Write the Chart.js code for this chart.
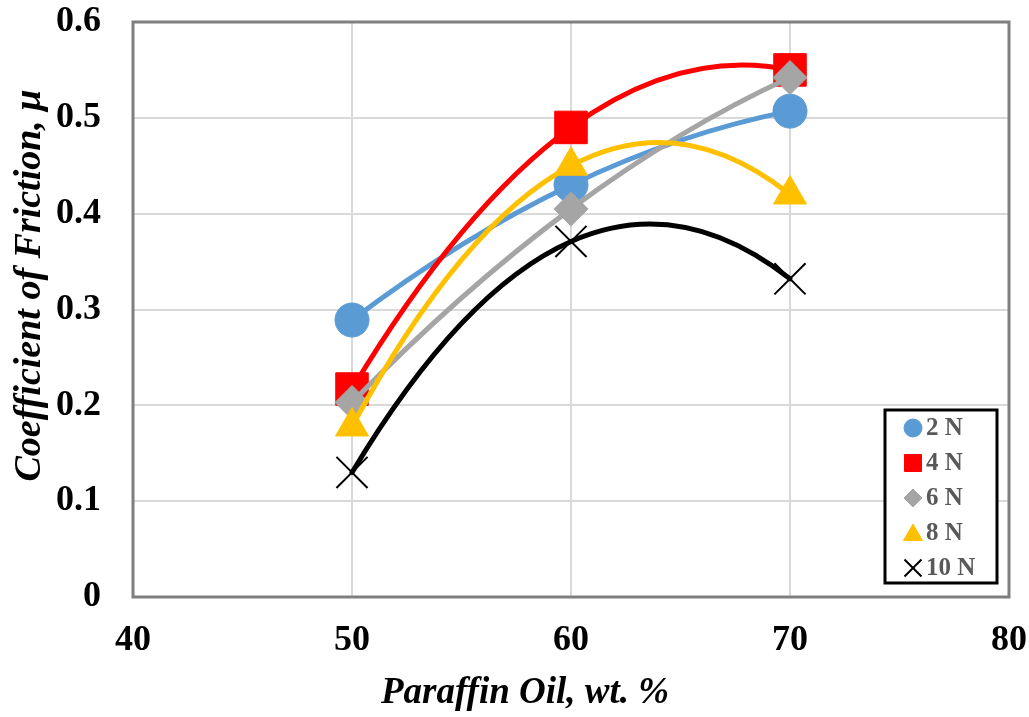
<!DOCTYPE html>
<html>
<head>
<meta charset="utf-8">
<script src="https://cdn.jsdelivr.net/npm/chart.js@4/dist/chart.umd.min.js"></script>
<style>
  body { margin: 0; background: #fff; }
  #wrap { width: 1029px; height: 717px; }
</style>
</head>
<body>
<div id="wrap"><canvas id="cofChart" width="1029" height="717"></canvas></div>
<script>
const oilContent = [50, 60, 70];
const seriesLabels = ['2 N', '4 N', '6 N', '8 N', '10 N'];
const cof2N = [0.289, 0.430, 0.507];
const cof4N = [0.217, 0.490, 0.550];
const cof6N = [0.203, 0.405, 0.542];
const cof8N = [0.178, 0.450, 0.420];
const cof10N = [0.130, 0.371, 0.332];
const xTicks = [40, 50, 60, 70, 80];
const yTicks = [0, 0.1, 0.2, 0.3, 0.4, 0.5, 0.6];
const xTitle = 'Paraffin Oil, wt. %';
const yTitle = 'Coefficient of Friction, μ';

const allSeries = [cof2N, cof4N, cof6N, cof8N, cof10N];
const colors = ['#5B9BD5', '#FF0000', '#A5A5A5', '#FFC000', '#000000'];
const styles = ['circle', 'rect', 'rectRot', 'triangle', 'crossRot'];
const radii = [17, 23, 17, 19, 22];
const legendRadii = [9, 12, 9, 11, 12];

const datasets = allSeries.map((vals, i) => ({
  label: seriesLabels[i],
  data: oilContent.map((x, j) => ({ x: x, y: vals[j] })),
  borderColor: colors[i],
  backgroundColor: colors[i],
  borderWidth: 5,
  showLine: false,
  pointStyle: styles[i],
  pointRadius: radii[i],
  pointHoverRadius: radii[i],
  pointBorderColor: colors[i],
  pointBackgroundColor: colors[i],
  pointBorderWidth: i === 4 ? 2 : 1,
  order: allSeries.length - i,
  clip: false
}));

// slope of the quadratic through three pixel points, at x
function lagrangeSlope(p, x) {
  const [a, b, c] = p;
  return a.y * ((x - b.x) + (x - c.x)) / ((a.x - b.x) * (a.x - c.x)) +
         b.y * ((x - a.x) + (x - c.x)) / ((b.x - a.x) * (b.x - c.x)) +
         c.y * ((x - a.x) + (x - b.x)) / ((c.x - a.x) * (c.x - b.x));
}

// smooth curve through the points of each dataset, drawn just under its own markers
const smoothCurve = {
  id: 'smoothCurve',
  beforeDatasetDraw(chart, args) {
    const pts = args.meta.data.map(e => ({ x: e.x, y: e.y }));
    if (pts.length < 3) return;
    const ds = chart.data.datasets[args.index];
    const ctx = chart.ctx;
    const s = pts.map(p => lagrangeSlope(pts, p.x));
    ctx.save();
    ctx.strokeStyle = ds.borderColor;
    ctx.lineWidth = ds.borderWidth;
    ctx.lineCap = 'round';
    ctx.lineJoin = 'round';
    ctx.beginPath();
    ctx.moveTo(pts[0].x, pts[0].y);
    for (let i = 0; i < pts.length - 1; i++) {
      const h = (pts[i + 1].x - pts[i].x) / 3;
      ctx.bezierCurveTo(pts[i].x + h, pts[i].y + s[i] * h,
                        pts[i + 1].x - h, pts[i + 1].y - s[i + 1] * h,
                        pts[i + 1].x, pts[i + 1].y);
    }
    ctx.stroke();
    ctx.restore();
  }
};

// plot frame and axis titles
const frame = {
  id: 'frame',
  beforeDatasetsDraw(chart) {
    const a = chart.chartArea;
    const ctx = chart.ctx;
    ctx.save();
    ctx.strokeStyle = '#7f7f7f';
    ctx.lineWidth = 3;
    ctx.strokeRect(a.left, a.top, a.right - a.left, a.bottom - a.top);
    ctx.fillStyle = '#000';
    ctx.textAlign = 'center';
    ctx.textBaseline = 'middle';
    ctx.font = 'italic bold 37px "Liberation Serif"';
    ctx.fillText(xTitle, 525, a.bottom + 96);
    ctx.translate(30, (a.top + a.bottom) / 2 - 24);
    ctx.rotate(-Math.PI / 2);
    ctx.font = 'italic bold 38px "Liberation Serif"';
    ctx.fillText(yTitle, 0, 0);
    ctx.restore();
  }
};

// legend box inside the plot, bottom right
const boxLegend = {
  id: 'boxLegend',
  afterDraw(chart) {
    const a = chart.chartArea;
    const ctx = chart.ctx;
    const w = 112, h = 173;
    const left = a.right - 124, top = a.bottom - 187;
    ctx.save();
    ctx.fillStyle = '#fff';
    ctx.fillRect(left, top, w, h);
    ctx.lineWidth = 3;
    ctx.strokeStyle = '#000';
    ctx.strokeRect(left, top, w, h);
    seriesLabels.forEach((lab, i) => {
      const y = top + 18 + i * 35;
      const x = left + 28;
      ctx.fillStyle = colors[i];
      ctx.strokeStyle = colors[i];
      ctx.lineWidth = i === 4 ? 2 : 1;
      Chart.helpers.drawPoint(ctx, {
        pointStyle: styles[i], radius: legendRadii[i], rotation: 0, borderWidth: ctx.lineWidth
      }, x, i === 3 ? y + 2 : y);
      ctx.fillStyle = '#595959';
      ctx.font = 'bold 25px "Liberation Serif"';
      ctx.textBaseline = 'middle';
      ctx.textAlign = 'left';
      ctx.fillText(lab, x + 13, y + 1);
    });
    ctx.restore();
  }
};

const noOverflow = s => { s.paddingTop = 0; s.paddingBottom = 0; s.paddingLeft = 0; s.paddingRight = 0; };

const ctx = document.getElementById('cofChart').getContext('2d');
new Chart(ctx, {
  type: 'line',
  data: { datasets: datasets },
  plugins: [frame, smoothCurve, boxLegend],
  options: {
    responsive: false,
    animation: false,
    layout: { autoPadding: false, padding: { top: 22, right: 20, bottom: 0, left: 0 } },
    plugins: {
      legend: { display: false },
      tooltip: { enabled: false }
    },
    scales: {
      x: {
        type: 'linear',
        min: 40,
        max: 80,
        afterBuildTicks: s => { s.ticks = xTicks.map(v => ({ value: v })); },
        afterFit: s => { s.height = 120; noOverflow(s); },
        grid: { color: '#d9d9d9', lineWidth: 2, drawTicks: false },
        border: { display: false },
        ticks: {
          color: '#000',
          padding: 22,
          font: { family: 'Liberation Serif', size: 36, weight: 'bold' }
        }
      },
      y: {
        min: 0,
        max: 0.6,
        afterBuildTicks: s => { s.ticks = yTicks.map(v => ({ value: v })); },
        afterFit: s => { s.width = 133; noOverflow(s); },
        grid: { color: '#d9d9d9', lineWidth: 2, drawTicks: false },
        border: { display: false },
        ticks: {
          color: '#000',
          padding: 32,
          callback: v => v === 0 ? '0' : v.toFixed(1),
          font: { family: 'Liberation Serif', size: 36, weight: 'bold' }
        }
      }
    }
  }
});
</script>
</body>
</html>
